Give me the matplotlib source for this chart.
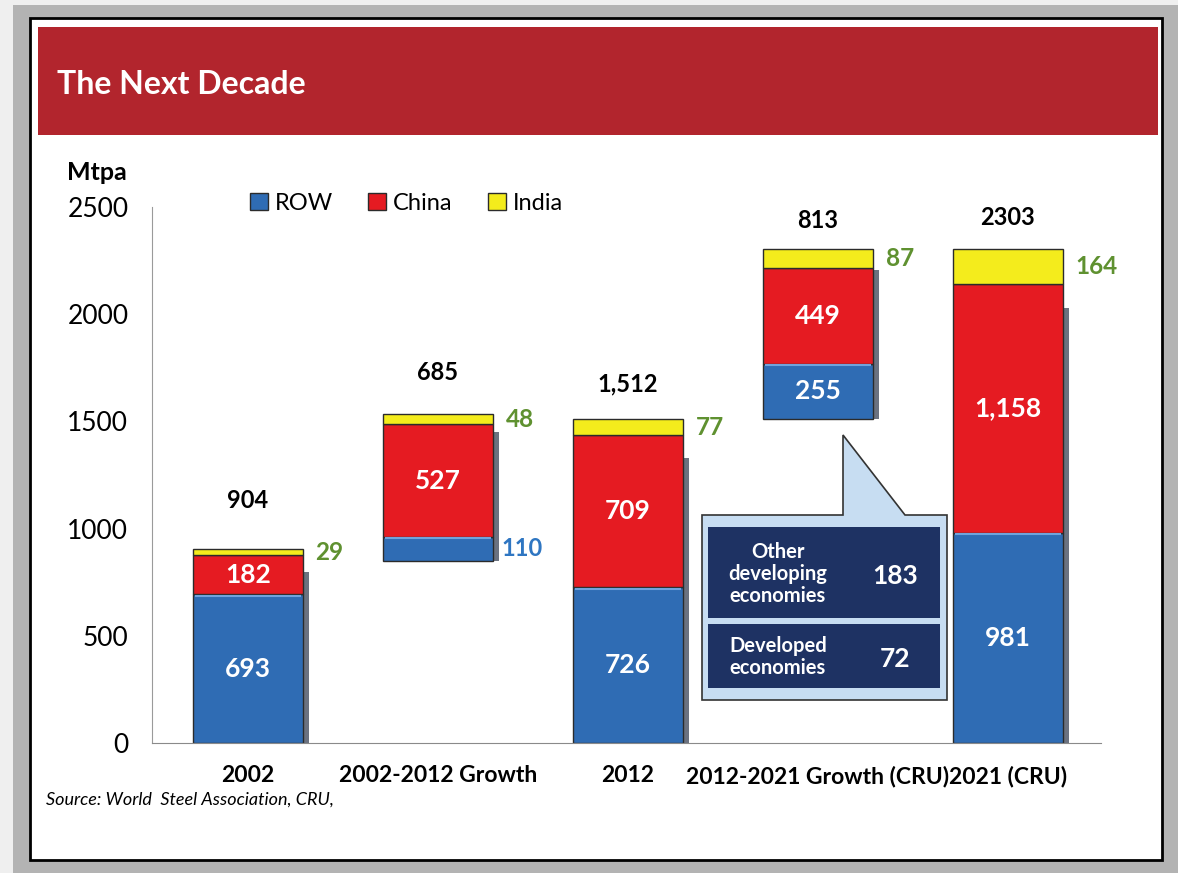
import numpy as np
import matplotlib
matplotlib.use("Agg")
import matplotlib.pyplot as plt
from matplotlib.patches import Rectangle, Polygon

# Datos del gráfico
categories = ['2002', '2002-2012 Growth', '2012', '2012-2021 Growth (CRU)', '2021 (CRU)']
row = [693, 110, 726, 255, 981]
china = [182, 527, 709, 449, 1158]
india = [29, 48, 77, 87, 164]
bases = [0, 850, 0, 1512, 0]
total_labels = ['904', '685', '1,512', '813', '2303']
row_labels = ['693', '110', '726', '255', '981']
china_labels = ['182', '527', '709', '449', '1,158']
india_labels = ['29', '48', '77', '87', '164']
callout_names = ['Other\ndeveloping\neconomies', 'Developed\neconomies']
callout_values = ['183', '72']
yticks = [0, 500, 1000, 1500, 2000, 2500]

plt.rcParams['font.family'] = ['Lato', 'DejaVu Sans']

W, H = 1178, 873
fig = plt.figure(figsize=(W / 100, H / 100), dpi=100)
fig.patch.set_facecolor('#efefef')


def fx(px):
    return px / W


def fy(py):
    return 1 - py / H


def frect(x0, y0, x1, y1, **kw):
    # rectangulo en pixeles de la figura
    r = Rectangle((fx(x0), fy(y1)), (x1 - x0) / W, (y1 - y0) / H,
                  transform=fig.transFigure, **kw)
    fig.add_artist(r)
    return r


# marco gris, panel blanco, barra de titulo
frect(13, 5, 1178, 873, facecolor='#b3b3b3', edgecolor='none', zorder=-3)
frect(30, 18, 1162, 860, facecolor='white', edgecolor='black', linewidth=2, zorder=-2)
frect(38, 27, 1158, 135, facecolor='#b2252d', edgecolor='none', zorder=-1)
fig.text(fx(57), fy(84), 'The Next Decade', color='white', fontsize=23,
         fontweight='bold', ha='left', va='center')

ax = fig.add_axes([fx(152), fy(743), (1101 - 152) / W, (743 - 207) / H])
ax.patch.set_alpha(0)

x = np.arange(len(categories))
w = 0.58
row_a = np.array(row)
china_a = np.array(china)
india_a = np.array(india)
base_a = np.array(bases)
tops = base_a + row_a + china_a + india_a

# sombra
ax.bar(x + 0.03, (tops - base_a) * 0.88, bottom=base_a, width=w,
       color='#6b7280', edgecolor='none', zorder=1)

ec = '#2b2b2b'
ax.bar(x, row_a, bottom=base_a, width=w, color='#2f6cb4', edgecolor=ec,
       linewidth=1, zorder=2, label='ROW')
ax.bar(x, china_a, bottom=base_a + row_a, width=w, color='#e51b22', edgecolor=ec,
       linewidth=1, zorder=2, label='China')
ax.bar(x, india_a, bottom=base_a + row_a + china_a, width=w, color='#f4ec1c',
       edgecolor=ec, linewidth=1, zorder=2, label='India')
# brillo en la parte superior del azul
ax.hlines(base_a + row_a - 6, x - w / 2 + 0.01, x + w / 2 - 0.01,
          color='#6fa3dc', linewidth=1.5, zorder=3)

# etiquetas
total_offsets = [35, 30, 25, 21, 23]
for i in range(len(x)):
    ax.annotate(total_labels[i], (x[i], tops[i]), xytext=(0, total_offsets[i]),
                textcoords='offset points', ha='center', va='center',
                fontsize=17, fontweight='bold', color='black')
    if i != 1:
        ax.text(x[i], base_a[i] + row_a[i] / 2, row_labels[i], ha='center',
                va='center', color='white', fontsize=19, fontweight='bold', zorder=4)
    else:
        ax.annotate(row_labels[i], (x[i] + w / 2, base_a[i] + row_a[i] / 2),
                    xytext=(6, 0), textcoords='offset points', ha='left',
                    va='center', color='#2f76c2', fontsize=17, fontweight='bold')
    ax.text(x[i], base_a[i] + row_a[i] + china_a[i] / 2, china_labels[i],
            ha='center', va='center', color='white', fontsize=19,
            fontweight='bold', zorder=4)
    ax.annotate(india_labels[i], (x[i] + w / 2, tops[i] - india_a[i] / 2),
                xytext=(9, 0), textcoords='offset points', ha='left',
                va='center', color='#5f9130', fontsize=17.5, fontweight='bold')

ax.set_xlim(-0.505, 4.49)
ax.set_ylim(0, 2500)
ax.set_yticks(yticks)
ax.set_yticklabels([str(t) for t in yticks], fontsize=19)
ax.set_xticks(x)
ax.set_xticklabels(categories, fontsize=16.5, fontweight='bold')
ax.tick_params(axis='both', length=0)
ax.tick_params(axis='y', pad=17)
ax.tick_params(axis='x', pad=16)
for s in ['top', 'right']:
    ax.spines[s].set_visible(False)
ax.spines['left'].set_color('#9a9a9a')
ax.spines['left'].set_linestyle((0, (1, 1)))
ax.spines['bottom'].set_color('#8a8a8a')

fig.text(fx(67), fy(173), 'Mtpa', fontsize=18, fontweight='bold', ha='left', va='center')

ax.legend(loc='center left', bbox_to_anchor=(fx(250), fy(203)),
          bbox_transform=fig.transFigure, ncol=3, frameon=False, fontsize=17,
          handlelength=0.75, handleheight=0.75, handletextpad=0.3,
          columnspacing=1.5, borderpad=0, borderaxespad=0)

# recuadro explicativo
pts = [(702, 515), (843, 515), (843, 435), (905, 515), (947, 515), (947, 700), (702, 700)]
fig.add_artist(Polygon([(fx(a), fy(b)) for a, b in pts], closed=True,
                       transform=fig.transFigure, facecolor='#c7ddf2',
                       edgecolor='#333333', linewidth=1.2, zorder=5))
frect(708, 527, 940, 618, facecolor='#1e3263', edgecolor='none', zorder=6)
frect(708, 624, 940, 688, facecolor='#1e3263', edgecolor='none', zorder=6)
name_y = [574, 657]
for nm, val, yy in zip(callout_names, callout_values, name_y):
    fig.text(fx(778), fy(yy), nm, color='white', fontsize=14.5, fontweight='bold',
             ha='center', va='center', linespacing=1.1, zorder=7)
    fig.text(fx(895), fy(yy + 2), val, color='white', fontsize=19,
             fontweight='bold', ha='center', va='center', zorder=7)

fig.text(fx(46), fy(800), 'Source: World  Steel Association, CRU,', fontsize=13,
         fontstyle='italic', ha='left', va='center')

fig.savefig('out.png', dpi=100, facecolor=fig.get_facecolor())
